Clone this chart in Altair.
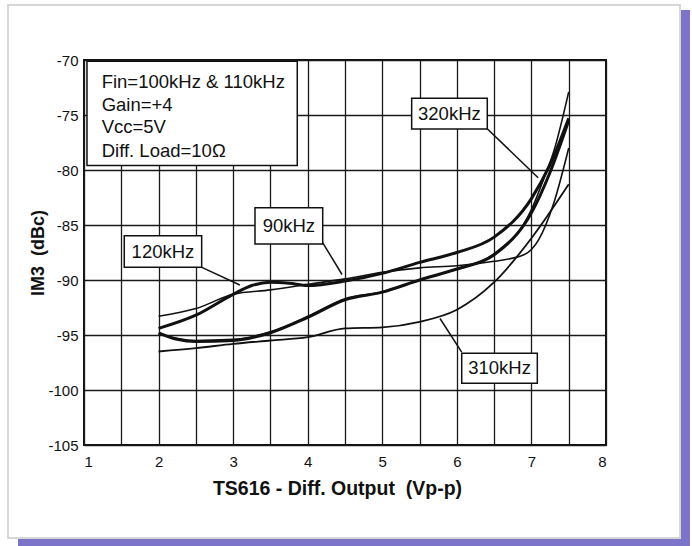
import altair as alt
import pandas as pd

# ---- data ----
curve_a_x = [2, 2.5, 3, 3.5, 4, 4.5, 5, 5.5, 6, 6.5, 6.9, 7.1, 7.3, 7.5]
curve_a_y = [-93.3, -92.6, -91.3, -90.9, -90.4, -89.9, -89.3, -88.9, -88.7, -88.3, -87.7, -86.3, -83.0, -78.0]

curve_b_x = [2, 2.5, 3, 3.25, 3.5, 3.75, 4, 4.5, 5, 5.5, 6, 6.5, 7, 7.25, 7.5]
curve_b_y = [-94.4, -93.2, -91.3, -90.5, -90.2, -90.3, -90.5, -90.1, -89.4, -88.4, -87.5, -86.1, -82.6, -79.5, -75.3]

curve_c_x = [2, 2.25, 2.5, 3, 3.5, 4, 4.5, 5, 5.5, 6, 6.5, 7, 7.25, 7.5]
curve_c_y = [-94.8, -95.4, -95.6, -95.5, -94.8, -93.4, -91.8, -91.1, -90.0, -89.0, -87.7, -83.9, -80.2, -75.5]

curve_e_x = [2, 2.5, 3, 3.5, 4, 4.5, 5, 5.5, 6, 6.5, 7, 7.16, 7.3, 7.5]
curve_e_y = [-94.9, -95.5, -95.4, -94.7, -93.3, -91.7, -91.1, -90.0, -89.0, -87.6, -83.6, -80.9, -78.3, -72.9]

curve_d_x = [2, 2.5, 3, 3.5, 4, 4.5, 5, 5.5, 6, 6.5, 7, 7.5]
curve_d_y = [-96.5, -96.2, -95.8, -95.5, -95.2, -94.4, -94.3, -93.8, -92.7, -90.2, -86.2, -81.3]

curve_names = ["a", "b", "c", "e", "d"]
curve_widths = [1.6, 3.0, 3.0, 1.6, 1.8]

x_grid = [1, 1.5, 2, 2.5, 3, 3.5, 4, 4.5, 5, 5.5, 6, 6.5, 7, 7.5, 8]
y_ticks = [-105, -100, -95, -90, -85, -80, -75, -70]

note_lines = ["Fin=100kHz & 110kHz", "Gain=+4", "Vcc=5V", "Diff. Load=10\u03a9"]
note_line_y = [-71.97, -74.09, -76.09, -78.25]
note_x = 1.237
note_box = dict(x=1.04, x2=3.86, y=-70.12, y2=-79.6)

label_text = ["320kHz", "90kHz", "120kHz", "310kHz"]
label_cx = [5.90, 3.747, 2.059, 6.572]
label_cy = [-74.88, -85.08, -87.41, -98.03]
box_x1 = [5.394, 3.293, 1.540, 6.065]
box_x2 = [6.408, 4.201, 2.578, 7.079]
box_y1 = [-73.48, -83.43, -85.97, -96.66]
box_y2 = [-76.27, -86.73, -88.85, -99.39]
ptr_x1 = [6.40, 4.20, 2.58, 6.065]
ptr_y1 = [-76.2, -86.6, -88.85, -96.55]
ptr_x2 = [7.09, 4.46, 3.09, 5.774]
ptr_y2 = [-80.7, -89.5, -90.45, -93.5]

# ---- build tables ----
rows = []
for name, w, xs, ys in zip(curve_names, curve_widths,
                           [curve_a_x, curve_b_x, curve_c_x, curve_e_x, curve_d_x],
                           [curve_a_y, curve_b_y, curve_c_y, curve_e_y, curve_d_y]):
    for i, (xv, yv) in enumerate(zip(xs, ys)):
        rows.append({"curve": name, "w": w, "x": xv, "y": yv, "o": i})
curves_df = pd.DataFrame(rows)

labels_df = pd.DataFrame({"t": label_text, "x": label_cx, "y": label_cy,
                          "bx": box_x1, "bx2": box_x2, "by": box_y1, "by2": box_y2,
                          "px": ptr_x1, "py": ptr_y1, "px2": ptr_x2, "py2": ptr_y2})
note_df = pd.DataFrame({"t": note_lines, "x": [note_x] * 4, "y": note_line_y})
note_box_df = pd.DataFrame([note_box])
one = pd.DataFrame({"a": [0]})

W, H = 522, 385
FONT = "Liberation Sans"
NB = "\u00a0"

xscale = alt.Scale(domain=[1, 8], nice=False, zero=False)
yscale = alt.Scale(domain=[-105, -70], nice=False, zero=False)

x_axis = alt.Axis(values=x_grid, grid=True, gridColor="#1a1a1a", gridWidth=1.3,
                  domain=False, ticks=False,
                  labelExpr="datum.value % 1 == 0 ? '' + datum.value : ''",
                  labelFont=FONT, labelFontSize=15, labelColor="#111", labelPadding=9,
                  title="TS616 - Diff. Output" + NB + " (Vp-p)", titleFont=FONT, titleFontSize=19.5,
                  titleFontWeight="bold", titleColor="#111",
                  titleX=253, titleY=43, titleBaseline="middle", titleAlign="center")
y_axis = alt.Axis(values=y_ticks, grid=True, gridColor="#1a1a1a", gridWidth=1.3,
                  domain=False, ticks=False,
                  labelExpr="'' + datum.value",
                  labelFont=FONT, labelFontSize=15, labelColor="#111", labelPadding=6,
                  title="IM3" + NB + " (dBc)", titleFont=FONT, titleFontSize=18,
                  titleFontWeight="bold", titleColor="#111",
                  titleX=-46, titleY=H / 2, titleBaseline="middle", titleAlign="center",
                  titleAngle=270)

X = lambda f="x": alt.X(f + ":Q", scale=xscale, axis=x_axis)
Y = lambda f="y": alt.Y(f + ":Q", scale=yscale, axis=y_axis)

# ---- decorative card & shadow ----
shadow_right = alt.Chart(one).mark_rect(color="#7c74c8").encode(
    x=alt.value(597), x2=alt.value(606), y=alt.value(-50), y2=alt.value(486))
shadow_bottom = alt.Chart(one).mark_rect(color="#7c74c8").encode(
    x=alt.value(-66), x2=alt.value(606), y=alt.value(479), y2=alt.value(486))
card = alt.Chart(one).mark_rect(fillOpacity=0, stroke="#c9c9c9", strokeWidth=1.5).encode(
    x=alt.value(-76), x2=alt.value(596), y=alt.value(-55), y2=alt.value(478))

lines = alt.Chart(curves_df).mark_line(interpolate="monotone", color="#111").encode(
    x=X(), y=Y(), detail="curve:N", order="o:Q",
    strokeWidth=alt.StrokeWidth("w:Q", scale=None))

note_rect = alt.Chart(note_box_df).mark_rect(fill="white", stroke="#111", strokeWidth=1.5).encode(
    x=X(), x2="x2:Q", y=Y(), y2="y2:Q")
note_text = alt.Chart(note_df).mark_text(align="left", baseline="middle", font=FONT,
                                         fontSize=18.5, color="#111").encode(
    x=X(), y=Y(), text="t:N")

pointers = alt.Chart(labels_df).mark_rule(color="#111", strokeWidth=1.5).encode(
    x=X("px"), y=Y("py"), x2="px2:Q", y2="py2:Q")
label_rect = alt.Chart(labels_df).mark_rect(fill="white", stroke="#111", strokeWidth=1.5).encode(
    x=X("bx"), x2="bx2:Q", y=Y("by"), y2="by2:Q")
label_txt = alt.Chart(labels_df).mark_text(align="center", baseline="middle", font=FONT,
                                           fontSize=18.5, color="#111").encode(
    x=X(), y=Y(), text="t:N")

chart = alt.layer(
    shadow_right, shadow_bottom, card, lines, note_rect, note_text,
    pointers, label_rect, label_txt
).properties(
    width=W, height=H,
    autosize=alt.AutoSizeParams(type="none"),
    padding={"left": 84, "top": 60, "right": 86, "bottom": 101},
    background="white",
).configure_view(stroke="#111", strokeWidth=2)

chart.save("out.html", embed_options={"renderer": "svg", "actions": False})
